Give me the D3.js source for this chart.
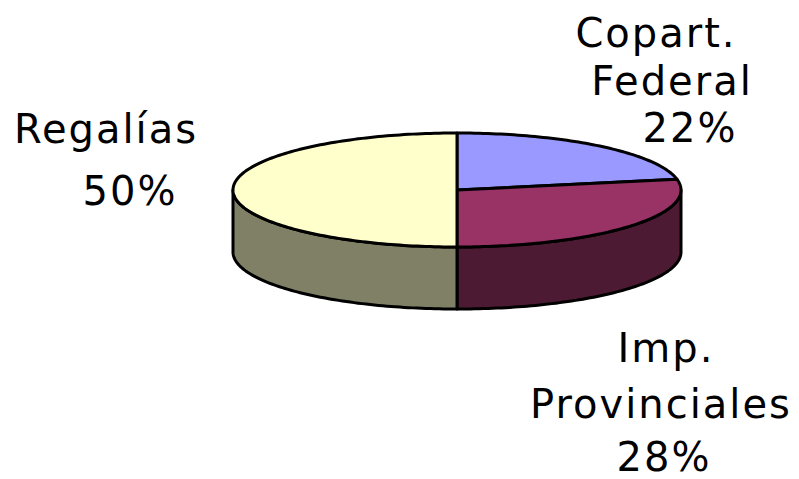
<!DOCTYPE html>
<html>
<head>
<meta charset="utf-8">
<script src="https://cdn.jsdelivr.net/npm/d3@7"></script>
<style>
  body { margin: 0; background: #fff; }
  svg text { font-family: 'DejaVu Sans', Verdana, sans-serif; font-size: 40px; letter-spacing: 2px; fill: #000; }
</style>
</head>
<body>
<svg width="799" height="479"></svg>
<script>
// Chart data
const categories = ['Copart. Federal', 'Imp. Provinciales', 'Regalías'];
const values = [22, 28, 50];
const labelLines = [['Copart.', 'Federal', '22%'], ['Imp.', 'Provinciales', '28%'], ['Regalías', '50%']];
const topColors = ['#9999ff', '#993366', '#ffffcc'];
const sideColors = ['#4d4d80', '#4d1a33', '#808066'];

const svg = d3.select('svg');

// Ellipse geometry of the 3D pie
const cx = 457;
const cy = 190;
const rx = 224;
const ry = 57;
const depth = 62;

const topColor = d3.scaleOrdinal().domain(categories).range(topColors);
const sideColor = d3.scaleOrdinal().domain(categories).range(sideColors);

const pie = d3.pie().sort(null).startAngle(0).endAngle(2 * Math.PI);
const slices = pie(values).map((d, i) => ({ ...d, name: categories[i] }));

const px = (a) => cx + rx * Math.sin(a);
const py = (a, dy = 0) => cy - ry * Math.cos(a) + dy;

function arcPoints(a0, a1, dy) {
  const n = Math.max(2, Math.ceil(Math.abs(a1 - a0) / 0.02));
  return d3.range(n + 1).map((k) => {
    const a = a0 + (a1 - a0) * (k / n);
    return [px(a), py(a, dy)];
  });
}

const line = d3.line();

// Side walls (only the front half is visible)
const sides = slices
  .map((d) => ({ ...d, s0: Math.max(d.startAngle, Math.PI / 2), s1: Math.min(d.endAngle, 3 * Math.PI / 2) }))
  .filter((d) => d.s1 > d.s0);

svg.append('g')
  .selectAll('path')
  .data(sides)
  .join('path')
  .attr('d', (d) => {
    const pts = arcPoints(d.s0, d.s1, 0).concat(arcPoints(d.s1, d.s0, depth));
    return `${line(pts)}Z`;
  })
  .attr('fill', (d) => sideColor(d.name))
  .attr('stroke', '#000')
  .attr('stroke-width', 3)
  .attr('stroke-linejoin', 'round');

// Top faces
svg.append('g')
  .selectAll('path')
  .data(slices)
  .join('path')
  .attr('d', (d) => {
    const pts = [[cx, cy]].concat(arcPoints(d.startAngle, d.endAngle, 0));
    return `${line(pts)}Z`;
  })
  .attr('fill', (d) => topColor(d.name))
  .attr('stroke', '#000')
  .attr('stroke-width', 3)
  .attr('stroke-linejoin', 'round');

// Labels
const labelPos = [
  { lines: [{ x: 656, y: 47 }, { x: 672, y: 95 }, { x: 690, y: 142 }] },
  { lines: [{ x: 666, y: 362 }, { x: 661, y: 418 }, { x: 664, y: 471 }] },
  { lines: [{ x: 106, y: 143 }, { x: 130, y: 205 }] },
];

const labels = svg.append('g');
labelLines.forEach((lines, i) => {
  lines.forEach((t, j) => {
    labels.append('text')
      .attr('x', labelPos[i].lines[j].x)
      .attr('y', labelPos[i].lines[j].y)
      .attr('text-anchor', 'middle')
      .text(t);
  });
});
</script>
</body>
</html>
